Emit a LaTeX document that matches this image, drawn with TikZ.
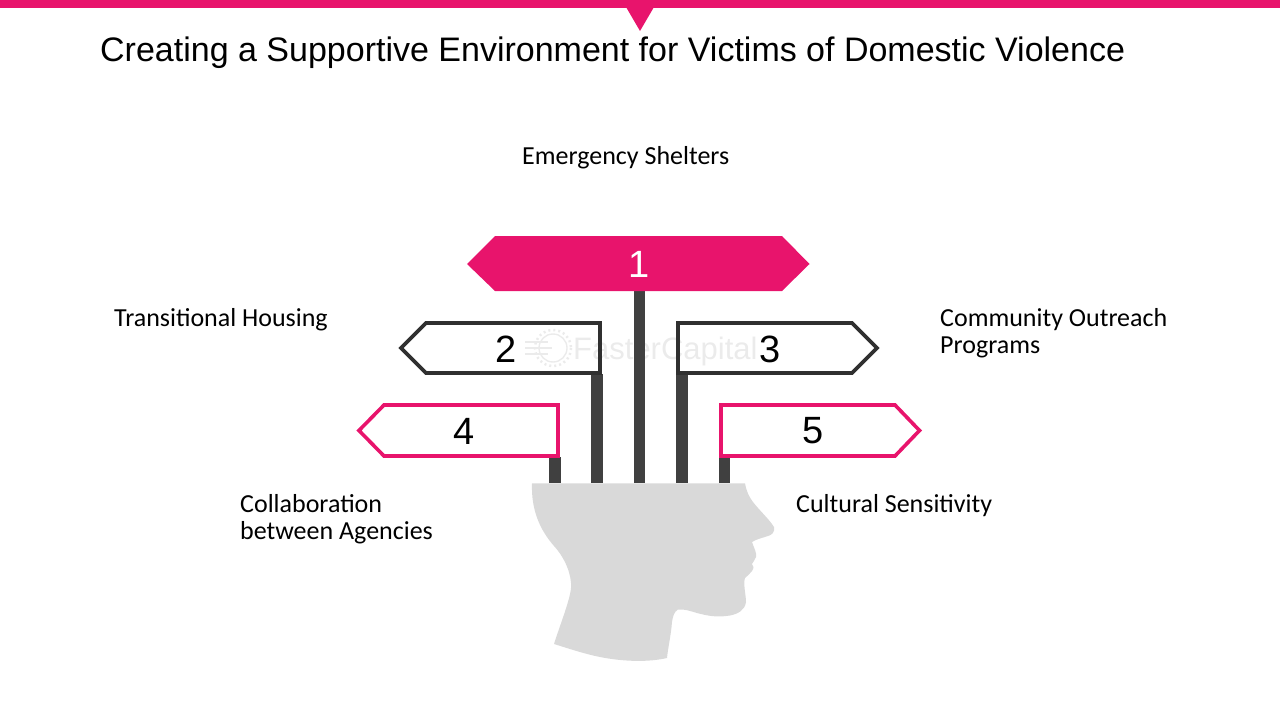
\documentclass[tikz,border=0pt]{standalone}
\usepackage{fontspec}
\setmainfont{Liberation Sans}
\newfontfamily\labelfont{Carlito}
\definecolor{brandpink}{HTML}{E8146C}
\definecolor{postgray}{HTML}{404040}
\definecolor{darkline}{HTML}{303030}
\definecolor{headgray}{HTML}{D9D9D9}
\definecolor{wmark}{HTML}{EBEBEB}
\tikzset{
  x=1pt,y=-1pt,
  post/.style={draw=postgray,line width=11.5pt},
  pinksign/.style={draw=brandpink,line width=3.6pt,miter limit=10},
  darksign/.style={draw=darkline,line width=3.6pt,miter limit=10},
  digit/.style={font=\fontsize{38}{38}\selectfont,inner sep=0pt,anchor=center},
  lab/.style={font=\labelfont\fontsize{26}{27}\selectfont,inner sep=0pt,anchor=base west,align=left},
}
\begin{document}
\begin{tikzpicture}
\useasboundingbox (0,0) rectangle (1280,720);
\fill[brandpink] (0,0) rectangle (1280,8);
\fill[brandpink] (626,7) -- (654,7) -- (640,31) -- cycle;
\node[anchor=base west,inner sep=0pt,font=\fontsize{34}{36}\selectfont] (title) at (100,61) {Creating a Supportive Environment for Victims of Domestic Violence};

% head
\coordinate (hA) at (555,483.3);
\coordinate (hB) at (597,483.3);
\coordinate (hC) at (639.5,483.3);
\coordinate (hD) at (682,483.3);
\coordinate (hE) at (724.5,483.3);
\fill[headgray] (532,483.3) -- (745,483.3)
  .. controls (746,490) and (749,497) .. (753,502)
  .. controls (760,511) and (769,519) .. (774,527)
  .. controls (775,532) and (772,535) .. (768,536)
  .. controls (762,538) and (757,539) .. (752,542)
  .. controls (754,548) and (757,553) .. (756,557)
  .. controls (755,560) and (753,562) .. (752,564)
  .. controls (754,566) and (754,568) .. (752,571)
  .. controls (750,574) and (747,576) .. (745,578)
  .. controls (743,584) and (746,595) .. (746,602)
  .. controls (745,610) and (738,614) .. (730,615.5)
  .. controls (715,618) and (705,615) .. (697,613)
  .. controls (690,611) and (685,609) .. (678,609.5)
  .. controls (674,612) and (673,616) .. (672,622)
  .. controls (671,635) and (668,648) .. (667,658)
  .. controls (650,662) and (625,662) .. (600,657)
  .. controls (585,654) and (570,649) .. (554,644)
  .. controls (560,625) and (570,600) .. (571,588)
  .. controls (572,575) and (565,558) .. (554,546)
  .. controls (540,530) and (531,510) .. (532,483.3) -- cycle;

% watermark
\draw[wmark,line width=1.4pt] (553,348) circle (14);
\draw[wmark,line width=2.5pt,dash pattern=on 2pt off 3pt] (553,348) circle (18);
\draw[wmark,line width=1.4pt] (525,342) -- (548,342) (525,348) -- (552,348) (525,354) -- (548,354);
\node[anchor=base west,inner sep=0pt,text=wmark,font=\fontsize{31}{31}\selectfont] (wm) at (573,359) {FasterCapital};

% posts
\coordinate (s1b) at (639.5,290);
\coordinate (s2b) at (597,374);
\coordinate (s3b) at (682,374);
\coordinate (s4b) at (555,457);
\coordinate (s5b) at (724.5,457);
\draw[post] (s1b) -- (hC);
\draw[post] (s2b) -- (hB);
\draw[post] (s3b) -- (hD);
\draw[post] (s4b) -- (hA);
\draw[post] (s5b) -- (hE);

% signs
\fill[brandpink] (467,264) -- (495,236) -- (782,236) -- (809.5,264) -- (782,291) -- (495,291) -- cycle;
\draw[darksign] (401,348) -- (426,323) -- (600,323) -- (600,373) -- (426,373) -- cycle;
\draw[darksign] (877,348) -- (852,323) -- (678,323) -- (678,373) -- (852,373) -- cycle;
\draw[pinksign] (359,430.5) -- (384,405) -- (558,405) -- (558,456) -- (384,456) -- cycle;
\draw[pinksign] (919.5,430.5) -- (895,405) -- (721,405) -- (721,456) -- (895,456) -- cycle;

\node[digit,text=white] (n1) at (639,264) {1};
\node[digit] (n2) at (506,349) {2};
\node[digit] (n3) at (770.5,349) {3};
\node[digit] (n4) at (464,431) {4};
\node[digit] (n5) at (813.5,431) {5};

\node[lab] (l1) at (522,164) {Emergency Shelters};
\node[lab] (l2) at (114,326) {Transitional Housing};
\node[lab] (l3a) at (940,326) {Community Outreach};
\node[lab] (l3b) at (940,353) {Programs};
\node[lab] (l4a) at (240,512) {Collaboration};
\node[lab] (l4b) at (240,539) {between Agencies};
\node[lab] (l5) at (796,512) {Cultural Sensitivity};
\end{tikzpicture}
\end{document}
